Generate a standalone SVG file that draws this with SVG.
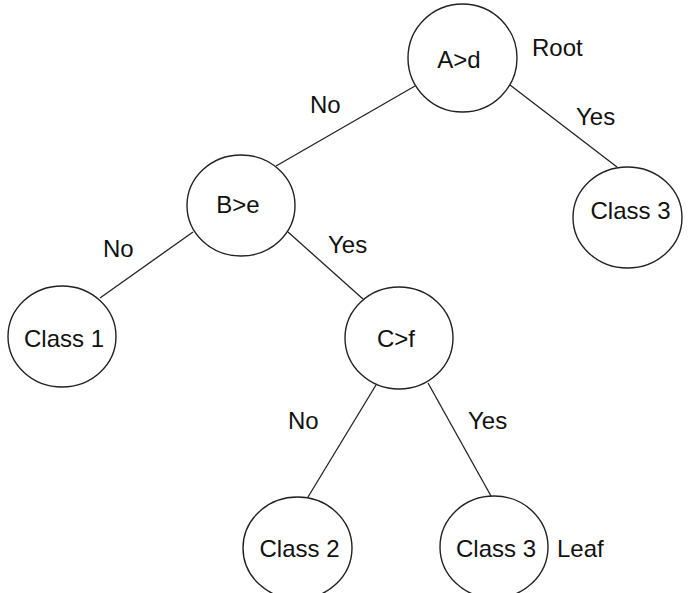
<svg xmlns="http://www.w3.org/2000/svg" width="692" height="593" viewBox="0 0 692 593">
<style>
.n{fill:#fff;stroke:#222;stroke-width:1.4}
.e{stroke:#222;stroke-width:1.3;fill:none}
text{font-family:"Liberation Sans",Arial,sans-serif;font-size:24px;fill:#111}
.c{text-anchor:middle}
</style>
<rect width="692" height="593" fill="#fff"/>
<g id="connectors">
<line class="e" x1="415" y1="86" x2="276" y2="166"/>
<line class="e" x1="510" y1="85" x2="617" y2="167"/>
<line class="e" x1="193" y1="232" x2="100" y2="298"/>
<line class="e" x1="288" y1="232" x2="363" y2="299"/>
<line class="e" x1="376" y1="385" x2="308" y2="497"/>
<line class="e" x1="428" y1="383" x2="491" y2="496"/>
<text x="310" y="113">No</text>
<text x="576" y="125">Yes</text>
<text x="103" y="257">No</text>
<text x="328" y="253">Yes</text>
<text x="288" y="429">No</text>
<text x="468" y="429">Yes</text>
</g>
<g id="root">
<ellipse class="n" cx="462.5" cy="58" rx="54.5" ry="54"/>
<text class="c" x="459" y="68">A&gt;d</text>
<text x="532" y="56">Root</text>
</g>
<g id="b">
<ellipse class="n" cx="241" cy="205.5" rx="54" ry="50.5"/>
<text class="c" x="238" y="213">B&gt;e</text>
</g>
<g id="class3a">
<ellipse class="n" cx="627.5" cy="217.5" rx="54.5" ry="50.5"/>
<text class="c" x="630.5" y="219">Class 3</text>
</g>
<g id="class1">
<ellipse class="n" cx="62" cy="336.5" rx="54" ry="50.5"/>
<text class="c" x="64" y="347">Class 1</text>
</g>
<g id="c">
<ellipse class="n" cx="399" cy="338" rx="54" ry="51"/>
<text class="c" x="396" y="347">C&gt;f</text>
</g>
<g id="class2">
<ellipse class="n" cx="297.5" cy="548" rx="54.5" ry="51"/>
<text class="c" x="299.5" y="557">Class 2</text>
</g>
<g id="class3b">
<ellipse class="n" cx="494" cy="547" rx="54" ry="51"/>
<text class="c" x="496" y="557">Class 3</text>
<text x="557" y="557">Leaf</text>
</g>
</svg>
